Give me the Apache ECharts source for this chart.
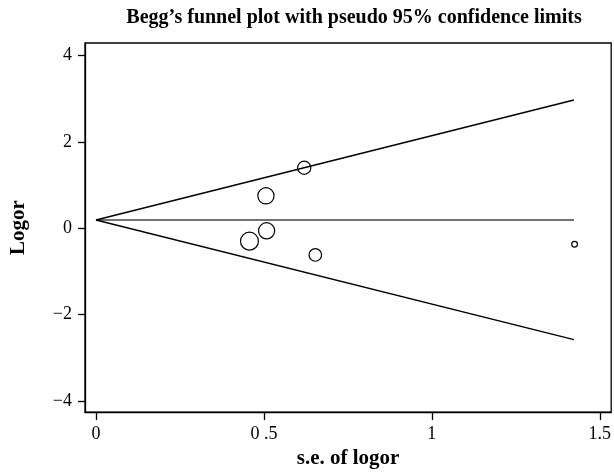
<!DOCTYPE html>
<html>
<head>
<meta charset="utf-8">
<script src="https://cdn.jsdelivr.net/npm/echarts@6/dist/echarts.min.js"></script>
<style>html,body{margin:0;padding:0;background:#fff}#c{width:614px;height:474px}</style>
</head>
<body>
<div id="c"></div>
<script>
// Study points: standard error of log OR, log OR
var seValues = [0.620, 0.506, 0.508, 0.457, 0.653, 1.425];
var logorValues = [1.40, 0.75, -0.06, -0.30, -0.62, -0.37];
// Funnel (pseudo 95% limits): [se, logor]
var upperLimit = [[0, 0.19], [1.423, 2.97]];
var lowerLimit = [[0, 0.19], [1.423, -2.58]];
var pooledLine = [[0, 0.19], [1.423, 0.19]];
// Tick values and labels
var xTicks = [0, 0.5, 1, 1.5];
var xTickLabels = ['0', '0 .5', '1', '1.5'];
var yTicks = [-4, -2, 0, 2, 4];
var yTickLabels = ['\u22124', '\u22122', '0', '2', '4'];

var points = seValues.map(function (s, i) { return [s, logorValues[i]]; });
var serif = '"Liberation Serif", "DejaVu Serif", serif';

var chart = echarts.init(document.getElementById('c'), null, {renderer: 'canvas'});
chart.setOption({
  animation: false,
  backgroundColor: '#fff',
  title: {
    text: 'Begg\u2019s funnel plot with pseudo 95% confidence limits',
    left: 349, top: 3, textAlign: 'center',
    textStyle: {fontFamily: serif, fontWeight: 'bold', fontSize: 20, color: '#000'}
  },
  grid: {left: 84, right: 2, top: 43, bottom: 60, show: true, borderColor: '#000', borderWidth: 1.3, backgroundColor: 'transparent'},
  xAxis: {
    type: 'value', min: -0.0327, max: 1.534,
    name: 's.e. of logor', nameLocation: 'middle', nameGap: 35,
    nameTextStyle: {fontFamily: serif, fontWeight: 'bold', fontSize: 21, color: '#000'},
    axisLine: {show: true, onZero: false, lineStyle: {color: '#000', width: 1.3}},
    splitLine: {show: false},
    axisTick: {show: true, inside: false, length: 8, customValues: xTicks, lineStyle: {color: '#000', width: 1.3}},
    axisLabel: {
      customValues: xTicks, margin: 13, fontFamily: serif, fontSize: 18, color: '#000',
      formatter: function (v) { var i = xTicks.indexOf(v); return i >= 0 ? xTickLabels[i] : ''; }
    }
  },
  yAxis: {
    type: 'value', min: -4.26, max: 4.29,
    name: 'Logor', nameLocation: 'middle', nameGap: 56,
    nameTextStyle: {fontFamily: serif, fontWeight: 'bold', fontSize: 21, color: '#000'},
    axisLine: {show: true, onZero: false, lineStyle: {color: '#000', width: 1.3}},
    splitLine: {show: false},
    axisTick: {show: true, inside: false, length: 7, customValues: yTicks, lineStyle: {color: '#000', width: 1.3}},
    axisLabel: {
      customValues: yTicks, margin: 13, fontFamily: serif, fontSize: 18, color: '#000',
      formatter: function (v) { var i = yTicks.indexOf(v); return i >= 0 ? yTickLabels[i] : ''; }
    }
  },
  series: [
    {type: 'line', data: pooledLine, symbol: 'none', silent: true, lineStyle: {color: '#444', width: 1.5}, z: 2},
    {type: 'line', data: upperLimit, symbol: 'none', silent: true, lineStyle: {color: '#000', width: 1.4}, z: 2},
    {type: 'line', data: lowerLimit, symbol: 'none', silent: true, lineStyle: {color: '#000', width: 1.4}, z: 2},
    {
      type: 'scatter', data: points, symbol: 'circle',
      symbolSize: function (v) { return 8.2 / v[0]; },
      itemStyle: {color: 'rgba(255,255,255,0)', borderColor: '#000', borderWidth: 1.2, opacity: 1},
      z: 3
    }
  ]
});
</script>
</body>
</html>
